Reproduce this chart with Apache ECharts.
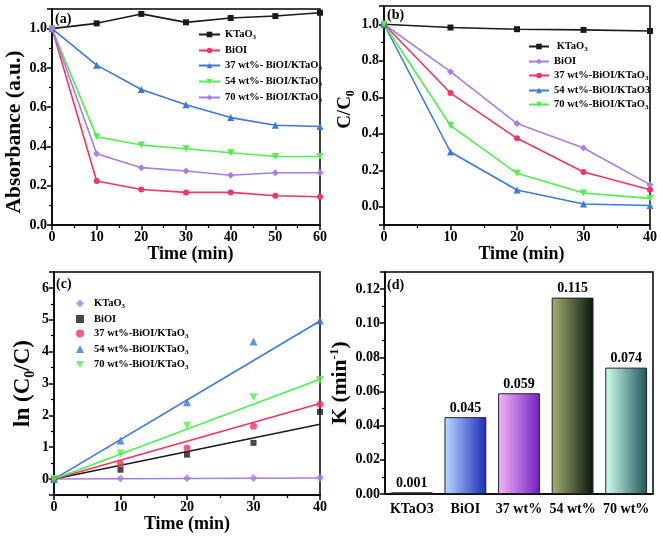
<!DOCTYPE html>
<html><head><meta charset="utf-8">
<script src="https://cdn.jsdelivr.net/npm/echarts@6/dist/echarts.min.js"></script>
<style>html,body{margin:0;padding:0;background:#fff}#c{width:661px;height:539px}</style>
</head><body><div id="c"></div><script>
// ---------- data ----------
const timeA = [0, 10, 20, 30, 40, 50, 60];
const aKTaO3 = [1.0, 1.027, 1.075, 1.032, 1.054, 1.064, 1.081];
const aBiOI  = [1.0, 0.224, 0.181, 0.166, 0.166, 0.149, 0.144];
const a37    = [1.0, 0.814, 0.690, 0.612, 0.547, 0.508, 0.502];
const a54    = [1.0, 0.449, 0.407, 0.388, 0.368, 0.349, 0.349];
const a70    = [1.0, 0.363, 0.292, 0.275, 0.253, 0.266, 0.266];

const timeB = [0, 10, 20, 30, 40];
const bKTaO3 = [1.0, 0.982, 0.973, 0.969, 0.963];
const bBiOI  = [1.0, 0.740, 0.456, 0.322, 0.121];
const b37    = [1.0, 0.623, 0.375, 0.190, 0.093];
const b54    = [1.0, 0.300, 0.092, 0.015, 0.007];
const b70    = [1.0, 0.445, 0.183, 0.075, 0.046];

const timeC = [0, 10, 20, 30, 40];
const cKTaO3 = [0, 0.018, 0.027, 0.031, 0.038];
const cBiOI  = [0, 0.294, 0.767, 1.135, 2.11];
const c37    = [0, 0.48, 0.977, 1.66, 2.35];
const c54    = [0, 1.21, 2.41, 4.32, 4.98];
const c70    = [0, 0.80, 1.67, 2.57, 3.11];
const fitTime   = [0, 40];
const fitKTaO3  = [0, 0.035];
const fitBiOI   = [0, 1.72];
const fit37     = [0, 2.37];
const fit54     = [0, 4.96];
const fit70     = [0, 3.13];

const kCategories = ['KTaO3', 'BiOI', '37 wt%', '54 wt%', '70 wt%'];
const kValues = [0.001, 0.045, 0.059, 0.115, 0.074];

// ---------- styling ----------
const FONT = '"Liberation Serif", "Times New Roman", serif';
const BLACK = '#1a1a1a', RED = '#f5335f', BLUE = '#3b78db', GREEN = '#4ef04e', PURPLE = '#a77de6';
const TRI_DOWN = 'path://M0,0L10,0L5,9Z';

const pairs = (xs, ys) => xs.map((x, i) => [x, ys[i]]);

const legendMap = {
  a_K: '{t|KTaO}{s|3}', a_B: '{t|BiOI}', a_37: '{t|37 wt%- BiOI/KTaO}{s|3}',
  a_54: '{t|54 wt%- BiOI/KTaO}{s|3}', a_70: '{t|70 wt%- BiOI/KTaO}{s|3}',
  b_K: '{t| KTaO}{s|3}', b_B: '{t|BiOI}', b_37: '{t|37 wt%-BiOI/KTaO}{s|3}',
  b_54: '{t|54 wt%-BiOI/KTaO3}', b_70: '{t|70 wt%-BiOI/KTaO}{s|3}',
  c_K: '{t|KTaO}{s|3}', c_B: '{t|BiOI}', c_37: '{t|37 wt%-BiOI/KTaO}{s|3}',
  c_54: '{t|54 wt%-BiOI/KTaO}{s|3}', c_70: '{t|70 wt%-BiOI/KTaO}{s|3}'
};
const legendRich = {
  t: { fontFamily: FONT, fontWeight: 'bold', fontSize: 10.5, color: '#000', lineHeight: 13 },
  s: { fontFamily: FONT, fontWeight: 'bold', fontSize: 7, color: '#000', verticalAlign: 'bottom', lineHeight: 9 }
};

function lineS(name, xs, ys, color, symbol, gi, size) {
  return {
    name, type: 'line', xAxisIndex: gi, yAxisIndex: gi, data: pairs(xs, ys),
    symbol, symbolSize: size || 6, showSymbol: true,
    lineStyle: { color, width: 1.6 }, itemStyle: { color }, animation: false, z: 3
  };
}
function scatterS(name, xs, ys, color, symbol, size) {
  return {
    name, type: 'scatter', xAxisIndex: 2, yAxisIndex: 2, data: pairs(xs, ys),
    symbol, symbolSize: size || 7, itemStyle: { color }, animation: false, z: 4
  };
}
function fitS(name, ys, color) {
  return {
    name, type: 'line', xAxisIndex: 2, yAxisIndex: 2, data: pairs(fitTime, ys),
    symbol: 'none', lineStyle: { color, width: 1.6 }, itemStyle: { color }, animation: false, z: 3
  };
}

const axisCommon = {
  axisLine: { show: true, onZero: false, lineStyle: { color: '#000', width: 1.5 } },
  axisTick: { show: true, inside: false, length: 5, lineStyle: { color: '#000', width: 1.5 } },
  minorTick: { show: true, splitNumber: 2, length: 3, lineStyle: { color: '#000', width: 1.2 } },
  splitLine: { show: false },
  axisLabel: { fontFamily: FONT, fontWeight: 'bold', fontSize: 14, color: '#000', margin: 5 }
};
function mergeAxis(extra) {
  const o = JSON.parse(JSON.stringify(axisCommon));
  for (const k in extra) {
    if (typeof extra[k] === 'object' && o[k] && !Array.isArray(extra[k])) o[k] = Object.assign(o[k], extra[k]);
    else o[k] = extra[k];
  }
  return o;
}
function stepFmt(step, dec) {
  return v => {
    const r = v / step;
    return Math.abs(r - Math.round(r)) < 1e-6 ? v.toFixed(dec) : '';
  };
}
const nameStyle = (size, padding) => ({
  fontFamily: FONT, fontWeight: 'bold', fontSize: size, color: '#000',
  padding: padding || 0,
  rich: {
    t: { fontFamily: FONT, fontWeight: 'bold', fontSize: size, color: '#000', lineHeight: size + 4 },
    s: { fontFamily: FONT, fontWeight: 'bold', fontSize: Math.round(size * 0.62), color: '#000', verticalAlign: 'bottom', lineHeight: 12 },
    p: { fontFamily: FONT, fontWeight: 'bold', fontSize: Math.round(size * 0.62), color: '#000', verticalAlign: 'top', lineHeight: 12 }
  }
});

const grids = [
  { left: 52, top: 9, right: 341, bottom: 314 },
  { left: 384, top: 6, right: 11, bottom: 314 },
  { left: 54, top: 272, right: 341, bottom: 44 },
  { left: 385, top: 272, right: 8, bottom: 45 }
].map(g => Object.assign(g, { show: true, borderColor: '#000', borderWidth: 1.5, containLabel: false }));

const xAxes = [
  mergeAxis({ type: 'value', gridIndex: 0, min: 0, max: 60, interval: 10, name: 'Time (min)', nameLocation: 'middle', nameGap: 20, nameTextStyle: nameStyle(18, [0, 0, 0, 9]) }),
  mergeAxis({ type: 'value', gridIndex: 1, min: 0, max: 40, interval: 10, name: 'Time (min)', nameLocation: 'middle', nameGap: 20, nameTextStyle: nameStyle(18, [0, 0, 0, 9]) }),
  mergeAxis({ type: 'value', gridIndex: 2, min: 0, max: 40, interval: 10, name: 'Time (min)', nameLocation: 'middle', nameGap: 20, nameTextStyle: nameStyle(18) }),
  mergeAxis({ type: 'category', gridIndex: 3, data: kCategories, axisTick: { show: false }, minorTick: { show: false }, axisLabel: { margin: 8, interval: 0, fontSize: 14 } })
];
const yAxes = [
  mergeAxis({ type: 'value', gridIndex: 0, min: 0, max: 1.1, splitNumber: 5, axisLabel: { formatter: stepFmt(0.2, 1) }, name: 'Absorbance (a.u.)', nameLocation: 'middle', nameGap: 24, nameTextStyle: nameStyle(21.5, [0, 30, 0, 0]) }),
  mergeAxis({ type: 'value', gridIndex: 1, min: -0.1, max: 1.1, splitNumber: 5, axisLabel: { formatter: stepFmt(0.2, 1) }, name: '{t|C/C}{s|0}', nameLocation: 'middle', nameGap: 27, nameTextStyle: nameStyle(19, [0, 0, 0, 12]) }),
  mergeAxis({ type: 'value', gridIndex: 2, min: -0.5, max: 6.5, splitNumber: 5, axisLabel: { formatter: stepFmt(1, 0) }, name: '{t|ln (C}{s|0}{t|/C)}', nameLocation: 'middle', nameGap: 17, nameTextStyle: nameStyle(23) }),
  mergeAxis({ type: 'value', gridIndex: 3, min: 0, max: 0.13, splitNumber: 6, axisLabel: { formatter: stepFmt(0.02, 2) }, name: '{t|K (min}{p|-1}{t|)}', nameLocation: 'middle', nameGap: 24, nameTextStyle: nameStyle(21.5) })
];

const barGrad = [
  ['#6f7f4f', '#2c3a1e'],
  ['#bcd9ff', '#1a2bb5'],
  ['#f6b4f6', '#7020c4'],
  ['#a3b474', '#0a140a'],
  ['#d2fff4', '#1f5656']
];
const barData = kValues.map((v, i) => ({
  value: v,
  itemStyle: {
    color: new echarts.graphic.LinearGradient(0, 0, 1, 0, [
      { offset: 0, color: barGrad[i][0] }, { offset: 1, color: barGrad[i][1] }
    ]),
    borderColor: '#222', borderWidth: 1
  }
}));

const series = [
  lineS('a_K', timeA, aKTaO3, BLACK, 'rect', 0, 6),
  lineS('a_B', timeA, aBiOI, RED, 'circle', 0, 6),
  lineS('a_37', timeA, a37, BLUE, 'triangle', 0, 7),
  lineS('a_54', timeA, a54, GREEN, TRI_DOWN, 0, 7),
  lineS('a_70', timeA, a70, PURPLE, 'diamond', 0, 7),
  lineS('b_K', timeB, bKTaO3, BLACK, 'rect', 1, 6),
  lineS('b_B', timeB, bBiOI, PURPLE, 'diamond', 1, 7),
  lineS('b_37', timeB, b37, RED, 'circle', 1, 6),
  lineS('b_54', timeB, b54, BLUE, 'triangle', 1, 7),
  lineS('b_70', timeB, b70, GREEN, TRI_DOWN, 1, 7),
  fitS('fit_K', fitKTaO3, PURPLE),
  fitS('fit_B', fitBiOI, BLACK),
  fitS('fit_37', fit37, RED),
  fitS('fit_54', fit54, BLUE),
  fitS('fit_70', fit70, GREEN),
  scatterS('c_K', timeC, cKTaO3, PURPLE, 'diamond', 8),
  scatterS('c_B', timeC, cBiOI, BLACK, 'rect', 6),
  scatterS('c_37', timeC, c37, RED, 'circle', 7),
  scatterS('c_54', timeC, c54, BLUE, 'triangle', 8),
  scatterS('c_70', timeC, c70, GREEN, TRI_DOWN, 8),
  {
    name: 'K', type: 'bar', xAxisIndex: 3, yAxisIndex: 3, data: barData, barWidth: '78%', animation: false,
    label: { show: true, position: 'top', distance: 2, formatter: p => p.value.toFixed(3), fontFamily: FONT, fontWeight: 'bold', fontSize: 14, color: '#000' }
  }
];

const legendBase = {
  orient: 'vertical', selectedMode: false,
  formatter: n => legendMap[n], textStyle: { rich: legendRich, fontSize: 10.5, fontFamily: FONT, fontWeight: 'bold', color: '#000' }
};
const legends = [
  Object.assign({}, legendBase, { data: ['a_K', 'a_B', 'a_37', 'a_54', 'a_70'], left: 193, top: 24, itemWidth: 21, itemHeight: 7, itemGap: 4 }),
  Object.assign({}, legendBase, { data: ['b_K', 'b_B', 'b_37', 'b_54', 'b_70'], left: 523, top: 36, itemWidth: 20, itemHeight: 7, itemGap: 3 }),
  Object.assign({}, legendBase, {
    data: ['c_K', 'c_B', 'c_37', 'c_54', 'c_70'], left: 71, top: 293, itemWidth: 8, itemHeight: 8, itemGap: 3.5,
    textStyle: { rich: legendRich, fontSize: 10.5, fontFamily: FONT, fontWeight: 'bold', color: '#000', padding: [0, 0, 0, 5] }
  })
];

const panelLabel = (txt, x, y) => ({ type: 'text', left: x, top: y, style: { text: txt, font: 'bold 14px ' + FONT, fill: '#000' } });

const chart = echarts.init(document.getElementById('c'), null, { renderer: 'canvas' });
chart.setOption({
  backgroundColor: '#fff',
  animation: false,
  grid: grids, xAxis: xAxes, yAxis: yAxes, legend: legends, series,
  graphic: [panelLabel('(a)', 55, 12), panelLabel('(b)', 387, 8), panelLabel('(c)', 56, 277), panelLabel('(d)', 387, 278)]
});
</script></body></html>
